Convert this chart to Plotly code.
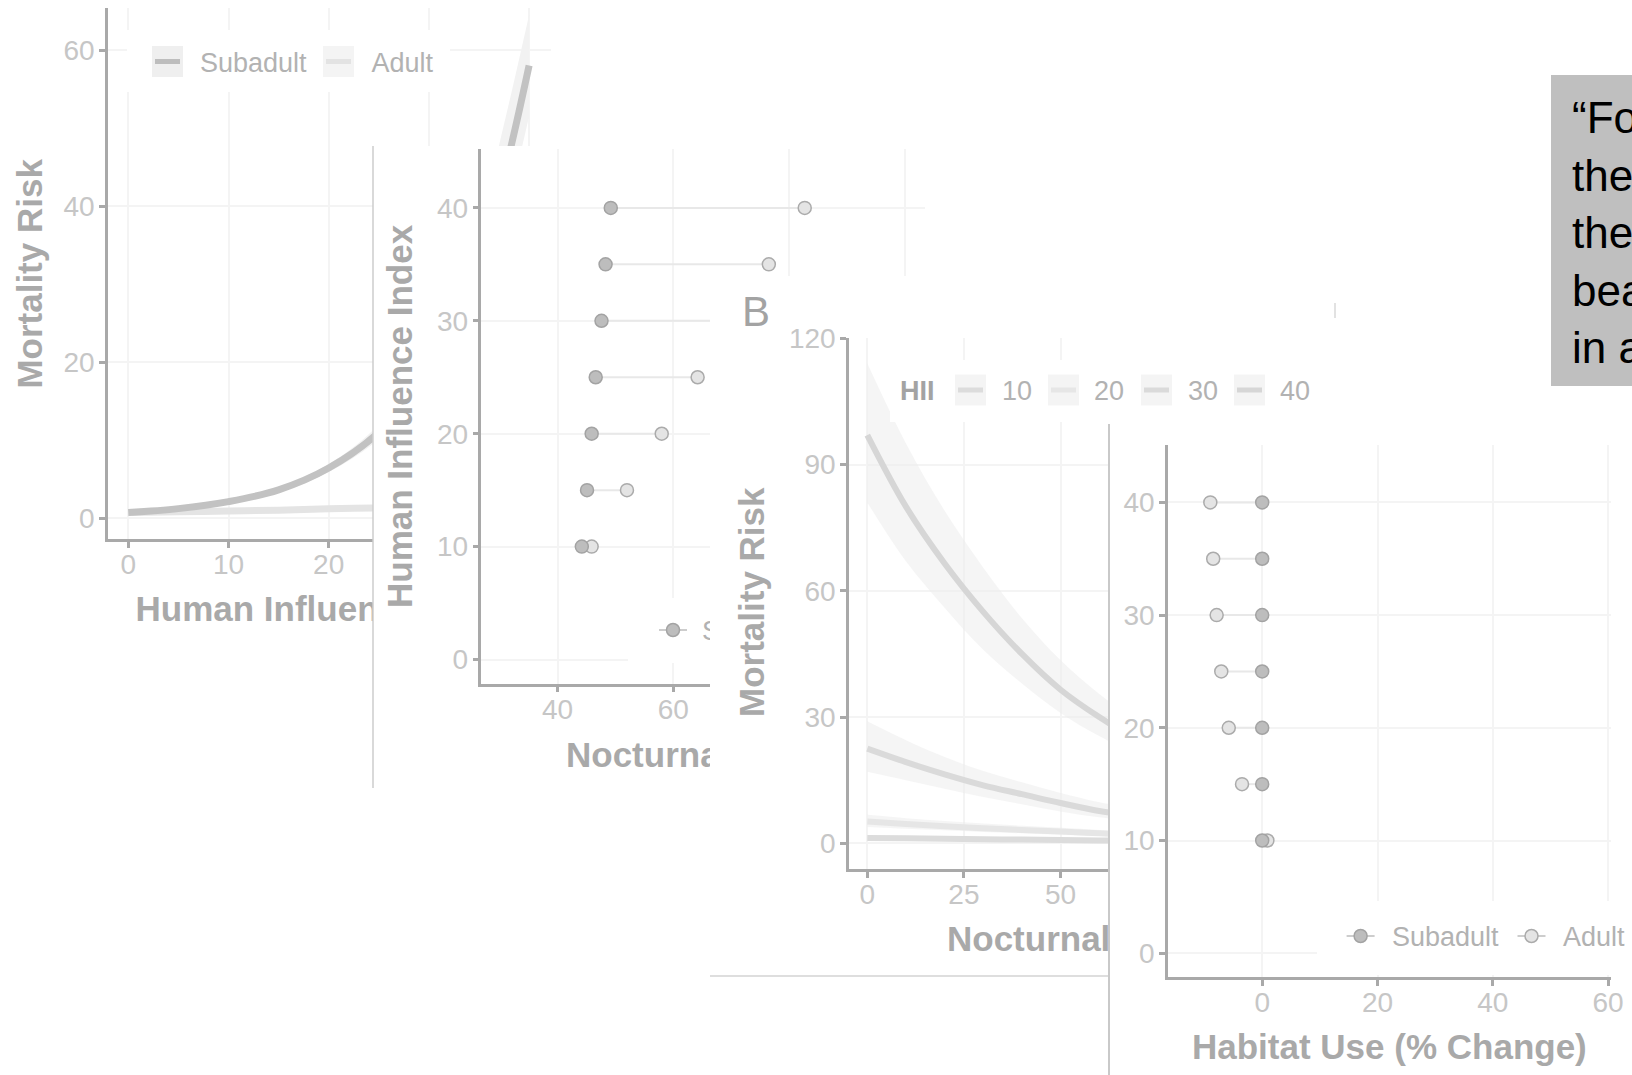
import plotly.graph_objects as go

W, H = 1632, 1075

# ---------------- data ----------------
# Panel A, curves: mortality risk along the human influence index
hii_axis = [0, 5, 10, 15, 20, 25, 30, 32.5, 35, 37.5, 40]
risk_subadult = [0.7, 1.2, 2.1, 3.6, 6.4, 11.0, 19.0, 25.0, 33.0, 44.0, 58.0]
risk_subadult_low = [0.6, 1.0, 1.9, 3.3, 5.9, 10.1, 17.0, 22.0, 29.0, 38.5, 51.5]
risk_subadult_high = [0.8, 1.4, 2.3, 3.9, 6.9, 12.0, 21.0, 28.0, 37.5, 50.5, 64.5]
risk_adult = [0.7, 0.8, 0.9, 1.0, 1.2, 1.3, 1.5, 1.6, 1.7, 1.8, 1.9]
risk_adult_low = [0.5, 0.6, 0.7, 0.8, 0.9, 1.0, 1.1, 1.2, 1.2, 1.3, 1.3]
risk_adult_high = [0.9, 1.0, 1.1, 1.3, 1.5, 1.7, 2.0, 2.1, 2.3, 2.4, 2.6]

# Panel A, dumbbells: nocturnality at each HII level
hii_levels = [10, 15, 20, 25, 30, 35, 40]
noct_subadult = [44.2, 45.1, 45.9, 46.6, 47.6, 48.3, 49.2]
noct_adult = [45.9, 52.0, 58.0, 64.2, 70.3, 76.5, 82.7]

# Panel B, curves: mortality risk along nocturnality for four HII levels
noct_axis = [0, 10, 20, 30, 40, 50, 60, 70, 80, 90, 100]
risk_hii40 = [97.0, 80.0, 66.5, 55.0, 45.0, 36.5, 30.0, 24.5, 20.0, 16.5, 13.5]
risk_hii40_low = [81.0, 67.0, 56.0, 46.0, 38.0, 31.0, 25.5, 21.0, 17.0, 14.0, 11.5]
risk_hii40_high = [114.0, 95.0, 79.0, 65.5, 53.5, 43.5, 35.5, 29.0, 24.0, 19.5, 16.0]
risk_hii30 = [22.5, 19.3, 16.4, 13.8, 11.7, 9.6, 7.7, 6.5, 5.5, 4.6, 3.9]
risk_hii30_low = [17.0, 15.0, 13.0, 11.0, 9.3, 7.6, 6.2, 5.2, 4.4, 3.6, 3.0]
risk_hii30_high = [29.0, 24.5, 20.5, 17.2, 14.5, 12.0, 9.8, 8.2, 6.9, 5.8, 4.9]
risk_hii20 = [5.2, 4.6, 4.1, 3.6, 3.2, 2.8, 2.4, 2.1, 1.9, 1.6, 1.4]
risk_hii20_low = [3.9, 3.5, 3.1, 2.7, 2.4, 2.1, 1.8, 1.6, 1.4, 1.2, 1.0]
risk_hii20_high = [6.8, 6.0, 5.3, 4.7, 4.2, 3.7, 3.2, 2.8, 2.5, 2.1, 1.9]
risk_hii10 = [1.3, 1.2, 1.1, 1.0, 0.9, 0.8, 0.7, 0.6, 0.6, 0.5, 0.4]
risk_hii10_low = [0.9, 0.8, 0.7, 0.7, 0.6, 0.5, 0.5, 0.4, 0.4, 0.3, 0.3]
risk_hii10_high = [1.8, 1.6, 1.5, 1.4, 1.2, 1.1, 1.0, 0.9, 0.8, 0.7, 0.6]

# Panel B, dumbbells: change in habitat use at each HII level
habitat_subadult = [0.0, 0.0, 0.0, 0.0, 0.0, 0.0, 0.0]
habitat_adult = [0.9, -3.5, -5.8, -7.1, -7.9, -8.5, -9.0]

age_labels = ["Subadult", "Adult"]
hii_labels = ["10", "20", "30", "40"]

# ---------------- styling ----------------
FONT = "Liberation Sans"
AXIS = "#a9a9a9"
TICK = "#c6c6c6"
TITLE = "#a9a9a9"
LEGEND_TXT = "#b2b2b2"
GRID = "#f4f4f4"
SUB_FILL, SUB_EDGE = "#bdbdbd", "#a3a3a3"
ADU_FILL, ADU_EDGE = "#e4e4e4", "#ababab"
SEGMENT = "#e8e8e8"
RIBBON = "#f2f2f2"
HII_COLORS = ["#dcdcdc", "#e6e6e6", "#dadada", "#d6d6d6"]
TEXT_DY = 3.5  # nudges text-trace glyphs onto their optical centre line

fig = go.Figure()
_count = [0]


def xdom(x0, x1):
    return [x0 / W, x1 / W]


def ydom(y0, y1):
    return [1 - y1 / H, 1 - y0 / H]


def span_x(px0, px1, ref_px, ref_val, ppu):
    return [ref_val + (px0 - ref_px) / ppu, ref_val + (px1 - ref_px) / ppu]


def span_y(py0, py1, ref_py, ref_val, ppu):
    return [ref_val - (py1 - ref_py) / ppu, ref_val - (py0 - ref_py) / ppu]


framed = dict(showline=True, linecolor=AXIS, linewidth=2.5, ticks="outside", ticklen=6,
              tickwidth=2.5, tickcolor=AXIS, tickfont=dict(family=FONT, size=28, color=TICK),
              showgrid=True, gridcolor=GRID, gridwidth=1.6, zeroline=False, fixedrange=True,
              automargin=False)
framed_x = dict(framed, ticklabelstandoff=-7)
framed_y = dict(framed, ticklabelstandoff=-1)
gridonly = dict(showline=False, ticks="", showticklabels=False, showgrid=True,
                gridcolor=GRID, gridwidth=1.6, zeroline=False, fixedrange=True, automargin=False)
blank = dict(visible=False, fixedrange=True, automargin=False)


def subplot(box_x, box_y, xrange, yrange, xstyle, ystyle, dx=None, dy=None):
    _count[0] += 1
    k = _count[0]
    s = "" if k == 1 else str(k)
    xa = dict(domain=xdom(*box_x), range=xrange, anchor="y" + s, **xstyle)
    ya = dict(domain=ydom(*box_y), range=yrange, anchor="x" + s, **ystyle)
    if dx is not None:
        xa.update(dtick=dx, tick0=0)
    if dy is not None:
        ya.update(dtick=dy, tick0=0)
    fig.update_layout({"xaxis" + s: xa, "yaxis" + s: ya})
    return "x" + s, "y" + s


def px_subplot(x0, x1, y0, y1):
    # a plain pixel frame, used for clipped titles, legend boxes and the quote
    return subplot((x0, x1), (y0, y1), [x0, x1], [y1, y0], blank, blank)


def add(tr, ax):
    tr.update(xaxis=ax[0], yaxis=ax[1], showlegend=False, hoverinfo="skip")
    fig.add_trace(tr)


def ribbon(ax, x, low, high, fill):
    add(go.Scatter(x=x, y=low, mode="lines", line=dict(width=0, shape="spline")), ax)
    add(go.Scatter(x=x, y=high, mode="lines", line=dict(width=0, shape="spline"),
                   fill="tonexty", fillcolor=fill), ax)


def curve(ax, x, y, color, width):
    add(go.Scatter(x=x, y=y, mode="lines", line=dict(color=color, width=width, shape="spline")), ax)


def dumbbells(ax, xs_sub, xs_adu, ys):
    seg_x, seg_y = [], []
    for a, b, y in zip(xs_sub, xs_adu, ys):
        seg_x += [a, b, None]
        seg_y += [y, y, None]
    add(go.Scatter(x=seg_x, y=seg_y, mode="lines", line=dict(color=SEGMENT, width=2)), ax)
    add(go.Scatter(x=xs_adu, y=ys, mode="markers",
                   marker=dict(size=13, color=ADU_FILL, line=dict(color=ADU_EDGE, width=1.5))), ax)
    add(go.Scatter(x=xs_sub, y=ys, mode="markers",
                   marker=dict(size=13, color=SUB_FILL, line=dict(color=SUB_EDGE, width=1.5))), ax)


def clipped_text(ax, x, y, text, size, color, bold=True, family=FONT):
    add(go.Scatter(x=[x], y=[y + TEXT_DY], mode="text", text=[text], textposition="middle right",
                   textfont=dict(family=family, size=size, color=color,
                                 weight="bold" if bold else "normal")), ax)


def point_key(ax, xc, yc, fill, edge):
    add(go.Scatter(x=[xc - 14, xc + 14], y=[yc, yc], mode="lines",
                   line=dict(color="#cdcdcd", width=2)), ax)
    add(go.Scatter(x=[xc], y=[yc], mode="markers",
                   marker=dict(size=13, color=fill, line=dict(color=edge, width=1.5))), ax)


shapes = []


def key_box(ax, x0, y0, line_color, fill="#f1f1f1"):
    shapes.append(dict(type="rect", xref=ax[0], yref=ax[1], x0=x0, x1=x0 + 31, y0=y0, y1=y0 + 31,
                       fillcolor=fill, line=dict(width=0), layer="above"))
    shapes.append(dict(type="line", xref=ax[0], yref=ax[1], x0=x0 + 3, x1=x0 + 28,
                       y0=y0 + 15.5, y1=y0 + 15.5, line=dict(color=line_color, width=5),
                       layer="above"))


# ---------------- panel A: mortality risk vs human influence ----------------
A_X = (128.3, 0, 10.02)
A_Y = (518.0, 0, 7.8)
a_main = subplot((108, 373), (8, 539), span_x(108, 373, *A_X), span_y(8, 539, *A_Y),
                 framed_x, framed_y, dx=10, dy=20)
a_top = subplot((373, 551), (8, 146), span_x(373, 551, *A_X), span_y(8, 146, *A_Y),
                gridonly, gridonly, dx=10, dy=20)
for ax in (a_main, a_top):
    ribbon(ax, hii_axis, risk_adult_low, risk_adult_high, "#f4f4f4")
    ribbon(ax, hii_axis, risk_subadult_low, risk_subadult_high, RIBBON)
    curve(ax, hii_axis, risk_adult, "#e4e4e4", 7)
    curve(ax, hii_axis, risk_subadult, "#c2c2c2", 7)

a_leg = px_subplot(127, 450, 30, 92)
key_box(a_leg, 152, 46, "#bdbdbd", "#efefef")
clipped_text(a_leg, 200, 61.5, age_labels[0], 27, LEGEND_TXT, bold=False)
key_box(a_leg, 323, 46, "#e3e3e3", "#f4f4f4")
clipped_text(a_leg, 371.5, 61.5, age_labels[1], 27, LEGEND_TXT, bold=False)

a_title = px_subplot(0, 373, 585, 640)
clipped_text(a_title, 135.5, 609, "Human Influence Index", 35, TITLE)

# ---------------- panel A: nocturnality dumbbells ----------------
N_X = (557.5, 40, 5.79)
N_Y = (659.5, 0, 11.29)
n_main = subplot((481.4, 710), (149, 683.5), span_x(481.4, 710, *N_X), span_y(149, 683.5, *N_Y),
                 framed_x, framed_y, dx=20, dy=10)
n_top = subplot((710, 925), (149, 276), span_x(710, 925, *N_X), span_y(149, 276, *N_Y),
                gridonly, gridonly, dx=20, dy=10)
for ax in (n_main, n_top):
    dumbbells(ax, noct_subadult, noct_adult, hii_levels)

n_leg = px_subplot(628, 710, 598, 663)
point_key(n_leg, 673, 630, SUB_FILL, SUB_EDGE)
clipped_text(n_leg, 702, 630, age_labels[0], 27, LEGEND_TXT, bold=False)

n_title = px_subplot(373, 710, 730, 785)
clipped_text(n_title, 566, 755, "Nocturnality (%)", 35, TITLE)

# ---------------- panel B: mortality risk vs nocturnality ----------------
B_X = (867.3, 0, 3.866)
B_Y = (843.4, 0, 4.21)
b_main = subplot((849, 1109), (338, 869), span_x(849, 1109, *B_X), span_y(338, 869, *B_Y),
                 framed_x, framed_y, dx=25, dy=30)
b_top = subplot((1109, 1273), (338, 424), span_x(1109, 1273, *B_X), span_y(338, 424, *B_Y),
                gridonly, gridonly, dx=25, dy=30)
hii_series = [
    (risk_hii10, risk_hii10_low, risk_hii10_high),
    (risk_hii20, risk_hii20_low, risk_hii20_high),
    (risk_hii30, risk_hii30_low, risk_hii30_high),
    (risk_hii40, risk_hii40_low, risk_hii40_high),
]
for mid, low, high in hii_series:
    ribbon(b_main, noct_axis, low, high, "rgba(236,236,236,0.5)")
for (mid, low, high), col in zip(hii_series, HII_COLORS):
    curve(b_main, noct_axis, mid, col, 6)

b_leg = px_subplot(890, 1320, 360, 422)
clipped_text(b_leg, 900, 390, "HII", 27, "#a3a3a3")
for lab, col, kx, tx in zip(hii_labels, HII_COLORS, [955, 1048, 1141, 1234], [1002, 1094, 1188, 1280]):
    key_box(b_leg, kx, 374.5, col, "#f4f4f4")
    clipped_text(b_leg, tx, 390, lab, 27, LEGEND_TXT, bold=False)

b_title = px_subplot(710, 1109, 915, 965)
clipped_text(b_title, 947, 939, "Nocturnality (%)", 35, TITLE)

# ---------------- panel B: habitat use dumbbells ----------------
U_X = (1262.2, 0, 5.765)
U_Y = (953.2, 0, 11.27)
u_main = subplot((1168, 1611), (445, 977), span_x(1168, 1611, *U_X), span_y(445, 977, *U_Y),
                 framed_x, framed_y, dx=20, dy=10)
dumbbells(u_main, habitat_subadult, habitat_adult, hii_levels)

u_leg = px_subplot(1317, 1632, 901, 975)
point_key(u_leg, 1360.6, 936, SUB_FILL, SUB_EDGE)
clipped_text(u_leg, 1392, 936, age_labels[0], 27, LEGEND_TXT, bold=False)
point_key(u_leg, 1531.5, 936, ADU_FILL, ADU_EDGE)
clipped_text(u_leg, 1563, 936, age_labels[1], 27, LEGEND_TXT, bold=False)

# ---------------- quote box, clipped at the page edge ----------------
shapes.append(dict(type="rect", xref="paper", yref="paper", x0=1551 / W, x1=1.0, y0=1 - 386 / H,
                   y1=1 - 75 / H, fillcolor="#bfbfbf", line=dict(width=0), layer="below"))
q_box = px_subplot(1551, 1632, 75, 386)
quote_lines = ["\u201cFor", "the", "the", "bear", "in a"]
for i, line in enumerate(quote_lines):
    clipped_text(q_box, 1572, 118.5 + 57.5 * i, line, 44, "#000000", bold=False)


# ---------------- free text and frame edges ----------------
def pxa(x, y, text, size, color, angle=0, bold=True, xanchor="center"):
    return dict(x=x / W, y=1 - y / H, xref="paper", yref="paper", text=text, showarrow=False,
                textangle=angle, xanchor=xanchor, yanchor="middle",
                font=dict(family=FONT, size=size, color=color, weight="bold" if bold else "normal"))


annotations = [
    pxa(28.6, 274, "Mortality Risk", 35, TITLE, angle=-90),
    pxa(399, 416, "Human Influence Index", 35, TITLE, angle=-90),
    pxa(751, 602, "Mortality Risk", 35, TITLE, angle=-90),
    pxa(1389, 1046, "Habitat Use (% Change)", 35, TITLE),
    pxa(756, 311, "B", 42, "#a3a3a3", bold=False),
]


def pline(x0, y0, x1, y1, color, width):
    return dict(type="line", xref="paper", yref="paper", x0=x0 / W, x1=x1 / W,
                y0=1 - y0 / H, y1=1 - y1 / H, line=dict(color=color, width=width), layer="above")


shapes += [
    pline(373, 146, 373, 788, "#cdcdcd", 1.5),
    pline(710, 976, 1109, 976, "#dedede", 2),
    pline(1109, 424, 1109, 1075, "#c9c9c9", 2),
    pline(1335, 303, 1335, 318, "#e2e2e2", 2),
]

fig.update_layout(
    width=W, height=H, autosize=False,
    margin=dict(l=0, r=0, t=0, b=0, pad=0, autoexpand=False),
    paper_bgcolor="#ffffff", plot_bgcolor="#ffffff",
    font=dict(family=FONT),
    showlegend=False,
    annotations=annotations,
    shapes=shapes,
)

fig.write_html("out.html", post_script="document.body.style.margin='0';")
